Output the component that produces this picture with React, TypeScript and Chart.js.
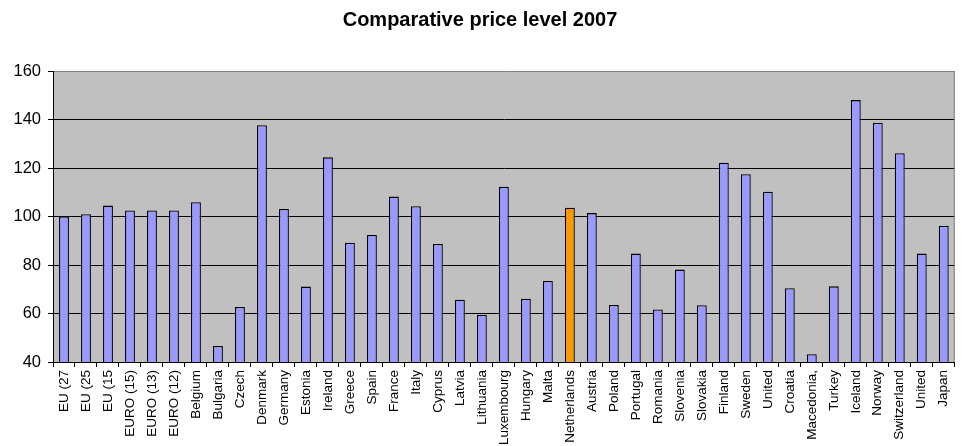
import React, { useEffect, useRef } from "react";
import { Chart, registerables } from "chart.js";

Chart.register(...registerables);

const TITLE = "Comparative price level 2007";

const categories: string[] = [
  "EU (27", "EU (25", "EU (15", "EURO (15)", "EURO (13)", "EURO (12)",
  "Belgium", "Bulgaria", "Czech", "Denmark", "Germany", "Estonia", "Ireland",
  "Greece", "Spain", "France", "Italy", "Cyprus", "Latvia", "Lithuania",
  "Luxembourg", "Hungary", "Malta", "Netherlands", "Austria", "Poland",
  "Portugal", "Romania", "Slovenia", "Slovakia", "Finland", "Sweden",
  "United", "Croatia", "Macedonia,", "Turkey", "Iceland", "Norway",
  "Switzerland", "United", "Japan",
];

const priceLevel: number[] = [
  100, 100.9, 104.5, 102.5, 102.5, 102.5,
  105.9, 46.6, 62.7, 137.6, 103.1, 71.1, 124.4,
  89.2, 92.4, 108.2, 104.2, 88.7, 65.7, 59.5,
  112.3, 66.1, 73.4, 103.6, 101.4, 63.5,
  84.7, 61.7, 78.1, 63.4, 122.2, 117.4,
  110.2, 70.4, 43.2, 71.2, 148.0, 138.7,
  126.1, 84.7, 96.2,
];

const highlighted = "Netherlands";

const yMin = 40;
const yMax = 160;
const yStep = 20;

const BAR_COLOR = "#9999FF";
const HIGHLIGHT_COLOR = "#FF9900";

const plotBackground = {
  id: "plotBackground",
  beforeDraw(chart: any) {
    const { ctx, chartArea } = chart;
    ctx.save();
    ctx.fillStyle = "#C0C0C0";
    ctx.fillRect(chartArea.left, chartArea.top, chartArea.right - chartArea.left, chartArea.bottom - chartArea.top);
    ctx.restore();
  },
  afterDatasetsDraw(chart: any) {
    const { ctx, chartArea } = chart;
    ctx.save();
    ctx.strokeStyle = "#808080";
    ctx.lineWidth = 1;
    ctx.beginPath();
    ctx.moveTo(chartArea.right - 0.5, chartArea.top);
    ctx.lineTo(chartArea.right - 0.5, chartArea.bottom);
    ctx.stroke();
    ctx.restore();
  },
};

export default function App() {
  const canvasRef = useRef<HTMLCanvasElement | null>(null);

  useEffect(() => {
    if (!canvasRef.current) return;
    const colors = categories.map((c) => (c === highlighted ? HIGHLIGHT_COLOR : BAR_COLOR));
    const chart = new Chart(canvasRef.current, {
      type: "bar",
      data: {
        labels: categories,
        datasets: [
          {
            data: priceLevel,
            backgroundColor: colors,
            borderColor: "#000000",
            borderWidth: 1.3,
            barPercentage: 0.45,
            categoryPercentage: 1,
          },
        ],
      },
      options: {
        animation: false,
        responsive: true,
        maintainAspectRatio: false,
        layout: { padding: { left: 0, right: 3, top: 0, bottom: 0 } },
        plugins: {
          legend: { display: false },
          tooltip: { enabled: false },
          title: {
            display: true,
            text: TITLE,
            color: "#000",
            font: { family: "'Liberation Sans', Arial, sans-serif", size: 20, weight: "bold" },
            padding: { top: 8, bottom: 39 },
          },
        },
        scales: {
          x: {
            offset: true,
            grid: {
              offset: true,
              drawOnChartArea: false,
              drawTicks: true,
              tickLength: 5,
              tickColor: "#000",
            },
            border: { color: "#000", width: 1 },
            ticks: {
              autoSkip: false,
              maxRotation: 90,
              minRotation: 90,
              padding: 3,
              color: "#000",
              font: { family: "'Liberation Sans', Arial, sans-serif", size: 13.5 },
            },
            afterFit(scale: any) {
              scale.height = 84;
            },
          },
          y: {
            min: yMin,
            max: yMax,
            grid: {
              color: (ctx: any) => (ctx.tick && ctx.tick.value === yMax ? "#808080" : "#000"),
              tickColor: "#000",
              tickLength: 5,
              lineWidth: 1,
            },
            border: { color: "#000", width: 1 },
            ticks: {
              stepSize: yStep,
              padding: 7,
              color: "#000",
              font: { family: "'Liberation Sans', Arial, sans-serif", size: 16.5 },
            },
            afterFit(scale: any) {
              scale.width = 53;
            },
          },
        },
      },
      plugins: [plotBackground],
    });
    return () => chart.destroy();
  }, []);

  return (
    <div style={{ position: "absolute", left: 0, top: 0, width: 963, height: 446, background: "#fff" }}>
      <canvas ref={canvasRef} />
    </div>
  );
}
